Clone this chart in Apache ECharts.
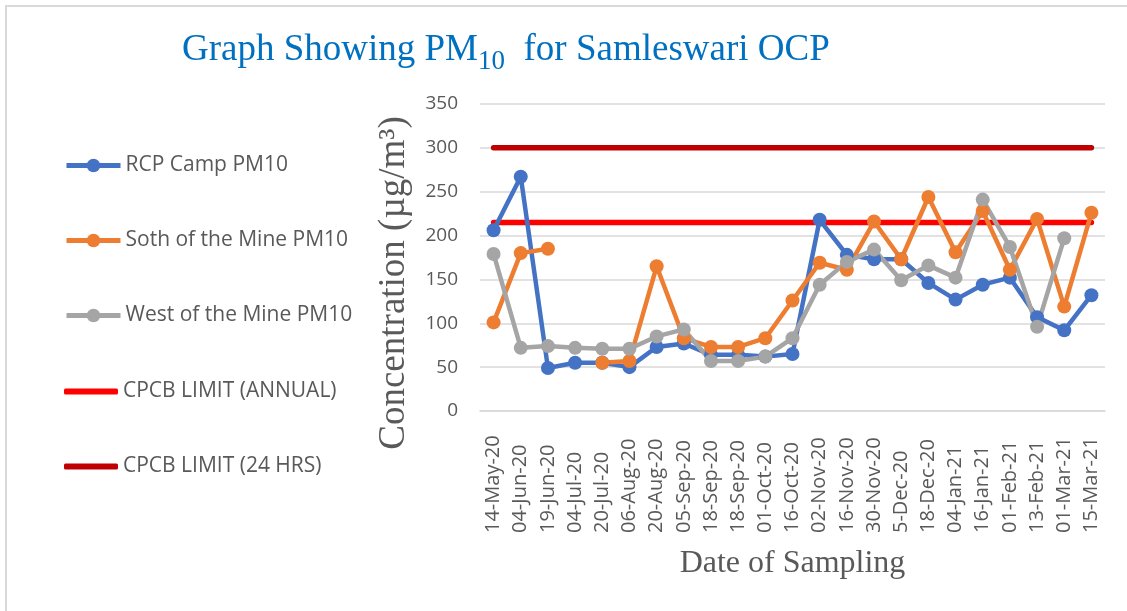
<!DOCTYPE html>
<html>
<head>
<meta charset="utf-8">
<script src="https://cdn.jsdelivr.net/npm/echarts@6/dist/echarts.min.js"></script>
<style>
  html, body { margin: 0; padding: 0; background: #fff; }
  #frame { position: absolute; left: 5px; top: 5px; width: 1130px; height: 620px;
           border-left: 2px solid #d9d9d9; border-top: 2px solid #d9d9d9; }
  #chart { position: absolute; left: 0; top: 0; width: 1127px; height: 611px; }
</style>
</head>
<body>
<div id="frame"></div>
<div id="chart"></div>
<script>
// sampling dates
const dates = [
  '14-May-20', '04-Jun-20', '19-Jun-20', '04-Jul-20', '20-Jul-20', '06-Aug-20',
  '20-Aug-20', '05-Sep-20', '18-Sep-20', '18-Sep-20', '01-Oct-20', '16-Oct-20',
  '02-Nov-20', '16-Nov-20', '30-Nov-20', '5-Dec-20', '18-Dec-20', '04-Jan-21',
  '16-Jan-21', '01-Feb-21', '13-Feb-21', '01-Mar-21', '15-Mar-21'
]
const rcpCamp = [206, 267, 49, 55, 55, 50, 73, 77, 64, 64, 62, 65,
  218, 178, 173, 173, 146, 127, 144, 152, 107, 92, 132]
const southMine = [101, 180, 185, null, 55, 57, 165, 83, 73, 73, 83, 126,
  169, 161, 216, 173, 244, 181, 228, 161, 219, 119, 226]
const westMine = [179, 72, 74, 72, 71, 71, 85, 93, 57, 57, 62, 83,
  144, 170, 184, 149, 166, 152, 241, 187, 96, 197, null]
const annualLimit = dates.map(() => 215)
const dailyLimit = dates.map(() => 300)

const textGray = '#595959'
const chart = echarts.init(document.getElementById('chart'))

const stationSeries = (name, data, color) => ({
  name,
  type: 'line',
  data,
  symbol: 'circle',
  symbolSize: 14,
  lineStyle: { color, width: 4.5 },
  itemStyle: { color },
  z: 3,
})
const limitSeries = (name, data, color) => ({
  name,
  type: 'line',
  data,
  symbol: 'none',
  lineStyle: { color, width: 5.5, cap: 'round' },
  itemStyle: { color },
  z: 2,
})

const legendText = { fontFamily: 'Open Sans', fontSize: 21, color: textGray }

chart.setOption({
  animation: false,
  title: {
    text: '{t|Graph Showing PM}{s|10}{t|  for Samleswari OCP}',
    left: 177,
    top: 21,
    textStyle: {
      rich: {
        t: { fontFamily: 'Liberation Serif', fontSize: 37, fontWeight: 'normal', color: '#0070C0' },
        s: { fontFamily: 'Liberation Serif', fontSize: 27, fontWeight: 'normal', color: '#0070C0',
             verticalAlign: 'bottom', padding: [22, 0, 0, 0] },
      },
    },
  },
  legend: [
    {
      orient: 'vertical',
      left: 59,
      top: 150,
      itemWidth: 54,
      itemHeight: 17,
      itemGap: 54,
      lineStyle: { width: 5 },
      textStyle: legendText,
      data: ['RCP Camp PM10', 'Soth of the Mine PM10', 'West of the Mine PM10'],
    },
    {
      orient: 'vertical',
      left: 59,
      top: 376,
      itemWidth: 54,
      itemHeight: 6,
      itemGap: 54,
      icon: 'roundRect',
      textStyle: legendText,
      data: ['CPCB LIMIT (ANNUAL)', 'CPCB LIMIT (24 HRS)'],
    },
  ],
  grid: { left: 480, right: 22, top: 104, bottom: 200 },
  xAxis: {
    type: 'category',
    data: dates,
    name: 'Date of Sampling',
    nameLocation: 'middle',
    nameGap: 137,
    nameTextStyle: { fontFamily: 'Liberation Serif', fontSize: 32, color: textGray },
    axisLine: { lineStyle: { color: '#d9d9d9', width: 1.5 } },
    axisTick: { show: false },
    axisLabel: {
      rotate: 90,
      interval: 0,
      align: 'left',
      verticalAlign: 'middle',
      fontFamily: 'Open Sans',
      fontSize: 20,
      color: textGray,
      margin: 122,
    },
  },
  yAxis: {
    type: 'value',
    min: 0,
    max: 350,
    interval: 50,
    axisLine: { show: false },
    axisTick: { show: false },
    axisLabel: { fontFamily: 'Open Sans', fontSize: 19, color: textGray, margin: 22 },
    splitLine: { lineStyle: { color: '#d9d9d9', width: 1.5 } },
  },
  graphic: [
    {
      type: 'text',
      x: 394,
      y: 283,
      rotation: Math.PI / 2,
      style: {
        text: 'Concentration (µg/m³)',
        fontFamily: 'Liberation Serif',
        fontSize: 37,
        fill: textGray,
        align: 'center',
        verticalAlign: 'middle',
      },
    },
  ],
  series: [
    stationSeries('RCP Camp PM10', rcpCamp, '#4472C4'),
    stationSeries('Soth of the Mine PM10', southMine, '#ED7D31'),
    stationSeries('West of the Mine PM10', westMine, '#A5A5A5'),
    limitSeries('CPCB LIMIT (ANNUAL)', annualLimit, '#FF0000'),
    limitSeries('CPCB LIMIT (24 HRS)', dailyLimit, '#C00000'),
  ],
})
</script>
</body>
</html>
